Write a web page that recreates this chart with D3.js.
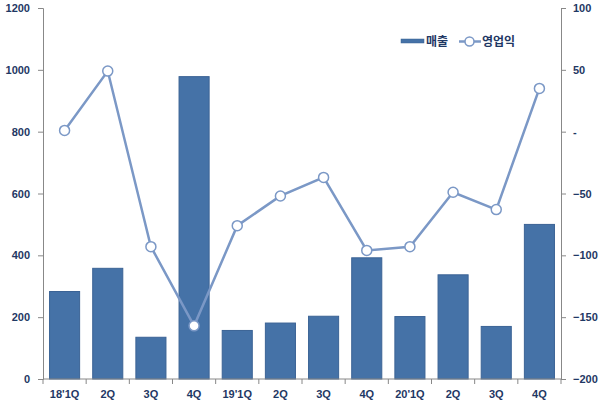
<!DOCTYPE html>
<html>
<head>
<meta charset="utf-8">
<script src="https://cdn.jsdelivr.net/npm/d3@7"></script>
<style>
  body { margin: 0; background: #fff; }
  text { font-family: "Liberation Sans", Arial, sans-serif; font-weight: bold; fill: #1f3864; }
  .kr { font-family: "Noto Sans CJK KR", sans-serif; }
</style>
</head>
<body>
<div id="chart"></div>
<script>
const categories = ["18'1Q", "2Q", "3Q", "4Q", "19'1Q", "2Q ", "3Q ", "4Q ", "20'1Q", "2Q  ", "3Q  ", "4Q  "];
const sales = [283, 358, 135, 978, 157, 181, 203, 392, 202, 337, 170, 500];
const profit = [1, 49, -93, -157, -76, -52, -37, -96, -93, -49, -63, 35];
const leftTicks = [0, 200, 400, 600, 800, 1000, 1200];
const rightTicks = [-200, -150, -100, -50, 0, 50, 100];

const W = 600, H = 406;
const plot = {left: 43, right: 561, top: 8, bottom: 379};
const font = "Liberation Sans, Arial, sans-serif";

const svg = d3.select("#chart").append("svg")
    .attr("width", W).attr("height", H);

const x = d3.scaleBand()
    .domain(categories)
    .range([plot.left, plot.right])
    .paddingInner(0.28)
    .paddingOuter(0.14);

const yL = d3.scaleLinear().domain([0, 1200]).range([plot.bottom, plot.top]);
const yR = d3.scaleLinear().domain([-200, 100]).range([plot.bottom, plot.top]);

// bars
svg.append("g").selectAll("rect")
    .data(sales)
    .enter().append("rect")
    .attr("x", (d, i) => x(categories[i]) + 0.5)
    .attr("y", d => yL(d))
    .attr("width", x.bandwidth() - 1)
    .attr("height", d => plot.bottom - yL(d))
    .attr("fill", "#4572a7")
    .attr("stroke", "#3b6395")
    .attr("stroke-width", 1);

// axes
const axisColor = "#888";
const gl = svg.append("g").attr("transform", `translate(${plot.left},0)`)
    .call(d3.axisLeft(yL).tickValues(leftTicks).tickSize(5).tickPadding(8)
        .tickFormat(d3.format("d")));
const gr = svg.append("g").attr("transform", `translate(${plot.right},0)`)
    .call(d3.axisRight(yR).tickValues(rightTicks).tickSize(5).tickPadding(7)
        .tickFormat(d => d === 0 ? "-" : d3.format("d")(d)));
const gx = svg.append("g").attr("transform", `translate(0,${plot.bottom})`)
    .call(d3.axisBottom(x).tickSize(0).tickPadding(11));

[gl, gr, gx].forEach(g => {
    g.select(".domain").attr("stroke", axisColor);
    g.selectAll(".tick line").attr("stroke", axisColor);
    g.selectAll("text").attr("font-size", 11).attr("fill", "#1f3864")
        .attr("font-family", font).attr("font-weight", "bold");
});
gx.select(".domain").attr("d", `M${plot.left},0H${plot.right}`);

// x ticks at category boundaries
gx.selectAll(".bound")
    .data(d3.range(categories.length + 1))
    .enter().append("line")
    .attr("x1", i => plot.left + i * x.step())
    .attr("x2", i => plot.left + i * x.step())
    .attr("y1", 0).attr("y2", 5)
    .attr("stroke", axisColor);

// profit line
const cx = (d, i) => x(categories[i]) + x.bandwidth() / 2;
const lineColor = "#7b98c6";
svg.append("path")
    .datum(profit)
    .attr("fill", "none")
    .attr("stroke", lineColor)
    .attr("stroke-width", 2.5)
    .attr("d", d3.line().x(cx).y(d => yR(d)));

svg.append("g").selectAll("circle")
    .data(profit)
    .enter().append("circle")
    .attr("cx", cx)
    .attr("cy", d => yR(d))
    .attr("r", 5)
    .attr("fill", "#fff")
    .attr("stroke", lineColor)
    .attr("stroke-width", 1.5);

// legend
const lg = svg.append("g");
lg.append("rect").attr("x", 401).attr("y", 39).attr("width", 23).attr("height", 4)
    .attr("fill", "#4572a7").attr("stroke", "#3b6395").attr("stroke-width", 0.5);
lg.append("text").attr("class", "kr").attr("x", 426).attr("y", 45.5)
    .attr("font-size", 12).text("매출");
lg.append("line").attr("x1", 459).attr("x2", 481).attr("y1", 41.5).attr("y2", 41.5)
    .attr("stroke", lineColor).attr("stroke-width", 2.5);
lg.append("circle").attr("cx", 469.5).attr("cy", 41.5).attr("r", 4.5)
    .attr("fill", "#fff").attr("stroke", lineColor).attr("stroke-width", 1.5);
lg.append("text").attr("class", "kr").attr("x", 482).attr("y", 45.5)
    .attr("font-size", 12).text("영업익");
</script>
</body>
</html>
